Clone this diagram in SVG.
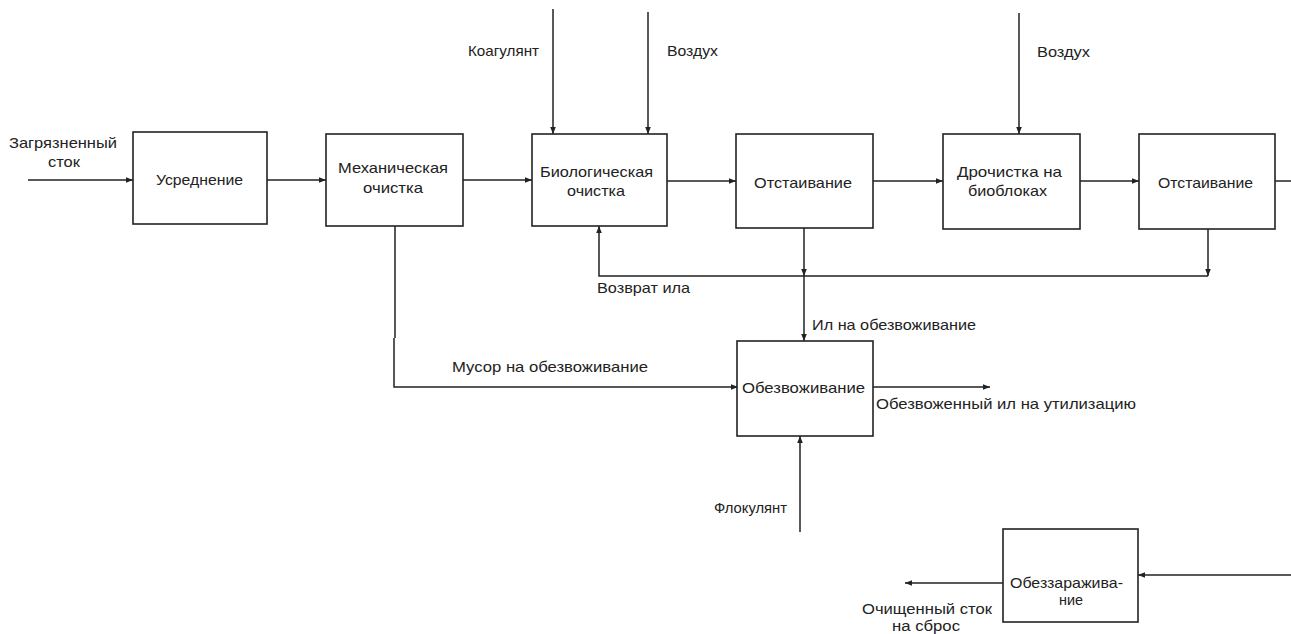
<svg xmlns="http://www.w3.org/2000/svg" width="1291" height="634" viewBox="0 0 1291 634">
<defs>
<style>
.box{fill:#fff;stroke:#222;stroke-width:1.6}
.ln{fill:none;stroke:#222;stroke-width:1.5}
.t{font-family:"Liberation Sans",Arial,sans-serif;font-size:15px;fill:#222}
.s{font-size:14px}
</style>
<marker id="ah" viewBox="0 0 10 10" refX="10" refY="5" markerWidth="7" markerHeight="7" markerUnits="userSpaceOnUse" orient="auto">
<path d="M0,1 L10,5 L0,9 Z" fill="#222"/>
</marker>
</defs>
<rect width="1291" height="634" fill="#fff"/>
<g id="connectors">
<path class="ln" d="M28,180 H133" marker-end="url(#ah)"/>
<path class="ln" d="M267,180 H326" marker-end="url(#ah)"/>
<path class="ln" d="M463,180 H532" marker-end="url(#ah)"/>
<path class="ln" d="M667,181 H736" marker-end="url(#ah)"/>
<path class="ln" d="M873,181 H943" marker-end="url(#ah)"/>
<path class="ln" d="M1080,181 H1139" marker-end="url(#ah)"/>
<path class="ln" d="M1275,181 H1291"/>
<path class="ln" d="M553,9 V134" marker-end="url(#ah)"/>
<path class="ln" d="M648,12 V134" marker-end="url(#ah)"/>
<path class="ln" d="M1019,13 V134" marker-end="url(#ah)"/>
<path class="ln" d="M1208,229 V276" marker-end="url(#ah)"/>
<path class="ln" d="M1208,276 H599 V226" marker-end="url(#ah)"/>
<path class="ln" d="M804,228 V276" marker-end="url(#ah)"/>
<path class="ln" d="M804,276 V341" marker-end="url(#ah)"/>
<path class="ln" d="M395,226 V338 M394,338 V387 H738" marker-end="url(#ah)"/>
<path class="ln" d="M873,387 H990" marker-end="url(#ah)"/>
<path class="ln" d="M800,532 V436" marker-end="url(#ah)"/>
<path class="ln" d="M1291,575 H1138" marker-end="url(#ah)"/>
<path class="ln" d="M1003,583 H905" marker-end="url(#ah)"/>
</g>
<g id="labels">
<text class="t" x="9" y="148" textLength="108" lengthAdjust="spacingAndGlyphs">Загрязненный</text>
<text class="t" x="48" y="167" textLength="32" lengthAdjust="spacingAndGlyphs">сток</text>
<text class="t" x="468" y="56" textLength="71" lengthAdjust="spacingAndGlyphs">Коагулянт</text>
<text class="t" x="667" y="56" textLength="51" lengthAdjust="spacingAndGlyphs">Воздух</text>
<text class="t" x="1037" y="57" textLength="53" lengthAdjust="spacingAndGlyphs">Воздух</text>
<text class="t" x="597" y="293" textLength="93" lengthAdjust="spacingAndGlyphs">Возврат ила</text>
<text class="t" x="812" y="330" textLength="164" lengthAdjust="spacingAndGlyphs">Ил на обезвоживание</text>
<text class="t" x="452" y="372" textLength="196" lengthAdjust="spacingAndGlyphs">Мусор на обезвоживание</text>
<text class="t" x="876" y="409" textLength="260" lengthAdjust="spacingAndGlyphs">Обезвоженный ил на утилизацию</text>
<text class="t" x="714" y="513" textLength="73" lengthAdjust="spacingAndGlyphs">Флокулянт</text>
<text class="t s" x="862" y="614" textLength="130" lengthAdjust="spacingAndGlyphs">Очищенный сток</text>
<text class="t s" x="892" y="631" textLength="68" lengthAdjust="spacingAndGlyphs">на сброс</text>
</g>
<g id="n-usrednenie">
<rect class="box" x="133" y="132" width="134" height="92"/>
<text class="t" x="156" y="185" textLength="87" lengthAdjust="spacingAndGlyphs">Усреднение</text>
</g>
<g id="n-mech">
<rect class="box" x="326" y="134" width="137" height="92"/>
<text class="t" x="338" y="173" textLength="110" lengthAdjust="spacingAndGlyphs">Механическая</text>
<text class="t" x="363" y="193" textLength="60" lengthAdjust="spacingAndGlyphs">очистка</text>
</g>
<g id="n-bio">
<rect class="box" x="532" y="134" width="135" height="92"/>
<text class="t" x="540" y="177" textLength="113" lengthAdjust="spacingAndGlyphs">Биологическая</text>
<text class="t" x="567" y="196" textLength="58" lengthAdjust="spacingAndGlyphs">очистка</text>
</g>
<g id="n-otst1">
<rect class="box" x="736" y="134" width="137" height="94"/>
<text class="t" x="754" y="188" textLength="98" lengthAdjust="spacingAndGlyphs">Отстаивание</text>
</g>
<g id="n-doochistka">
<rect class="box" x="943" y="134" width="137" height="95"/>
<text class="t" x="957" y="177" textLength="105" lengthAdjust="spacingAndGlyphs">Дрочистка на</text>
<text class="t" x="968" y="196" textLength="79" lengthAdjust="spacingAndGlyphs">биоблоках</text>
</g>
<g id="n-otst2">
<rect class="box" x="1139" y="134" width="136" height="95"/>
<text class="t" x="1158" y="188" textLength="95" lengthAdjust="spacingAndGlyphs">Отстаивание</text>
</g>
<g id="n-obezvozhivanie">
<rect class="box" x="737" y="341" width="136" height="95"/>
<text class="t" x="742" y="393" textLength="123" lengthAdjust="spacingAndGlyphs">Обезвоживание</text>
</g>
<g id="n-obezzarazhivanie">
<rect class="box" x="1003" y="529" width="135" height="93"/>
<text class="t" x="1010" y="588" textLength="113" lengthAdjust="spacingAndGlyphs">Обеззаражива-</text>
<text class="t" x="1059" y="605" textLength="24" lengthAdjust="spacingAndGlyphs">ние</text>
</g>
</svg>
